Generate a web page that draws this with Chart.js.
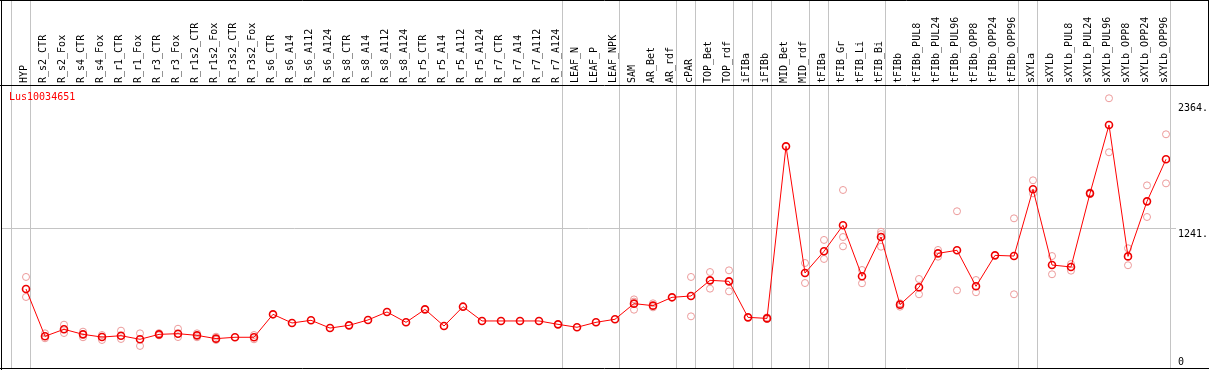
<!DOCTYPE html>
<html>
<head>
<meta charset="utf-8">
<script src="https://cdn.jsdelivr.net/npm/chart.js@4.4.1/dist/chart.umd.min.js"></script>
<style>
  html, body { margin: 0; padding: 0; background: #fff; }
  #wrap { width: 1209px; height: 370px; }
</style>
</head>
<body>
<div id="wrap"><canvas id="exprChart" width="1209" height="370"></canvas></div>
<script>
// Expression profile for one gene across tissues / treatments
const geneName = 'Lus10034651';

const categories = [
    'HYP', 'R_s2_CTR', 'R_s2_Fox', 'R_s4_CTR', 'R_s4_Fox', 'R_r1_CTR', 'R_r1_Fox',
    'R_r3_CTR', 'R_r3_Fox', 'R_r1s2_CTR', 'R_r1s2_Fox', 'R_r3s2_CTR', 'R_r3s2_Fox',
    'R_s6_CTR', 'R_s6_A14', 'R_s6_A112', 'R_s6_A124', 'R_s8_CTR', 'R_s8_A14', 'R_s8_A112',
    'R_s8_A124', 'R_r5_CTR', 'R_r5_A14', 'R_r5_A112', 'R_r5_A124', 'R_r7_CTR', 'R_r7_A14',
    'R_r7_A112', 'R_r7_A124', 'LEAF_N', 'LEAF_P', 'LEAF_NPK', 'SAM', 'AR_Bet', 'AR_rdf',
    'cPAR', 'TOP_Bet', 'TOP_rdf', 'iFIBa', 'iFIBb', 'MID_Bet', 'MID_rdf', 'tFIBa',
    'tFIB_Gr', 'tFIB_Li', 'tFIB_Bi', 'tFIBb', 'tFIBb_PUL8', 'tFIBb_PUL24', 'tFIBb_PUL96',
    'tFIBb_OPP8', 'tFIBb_OPP24', 'tFIBb_OPP96', 'sXYLa', 'sXYLb', 'sXYLb_PUL8',
    'sXYLb_PUL24', 'sXYLb_PUL96', 'sXYLb_OPP8', 'sXYLb_OPP24', 'sXYLb_OPP96'
];

// mean expression per sample
const meanValues = [
    702, 282, 344, 299, 275, 287, 255, 299, 305, 290, 261, 273, 273,
    477, 400, 424, 355, 379, 427, 498, 406, 521, 373, 545, 418, 418, 418, 418, 388,
    362, 406, 433, 572, 554, 628, 640, 779, 770, 450, 441, 1970, 844, 1037,
    1268, 815, 1164, 563, 717, 1019, 1046, 726, 1001, 995, 1588, 915, 898,
    1552, 2160, 992, 1481, 1855
];

// individual replicates (null = not shown)
const repHigh = [
    809, 308, 385, 323, 293, 332, 308, 310, 349, 308, 278, null, 293,
    null, null, null, null, null, null, null, null, null, null, null, null, null, null, null, null,
    null, null, null, 610, 575, null, 809, 853, 868, null, 450, null, 933, 1138,
    1582, 871, 1211, 575, 791, 1049, 1393, 782, null, 1330, 1668, 995, 924,
    1560, 2397, 1064, 1623, 2077
];
const repLow = [
    631, 264, 311, 273, 249, 258, 196, 290, 275, 273, 249, null, 255,
    null, null, null, null, null, null, null, null, null, null, null, null, null, null, null, null,
    null, null, null, 518, 539, null, 459, 705, 681, null, 435, null, 755, 969,
    1081, 753, 1078, 545, 655, 989, 690, 673, null, 655, 1552, 833, 865,
    1545, 1917, 913, 1342, 1641
];
const repMid = [
    null, null, null, null, null, null, null, null, null, null, null, null, null,
    null, null, null, null, null, null, null, null, null, null, null, null, null, null, null, null,
    null, null, null, 590, null, null, null, null, null, null, null, null, null, null,
    1164, null, 1190, null, null, null, null, null, null, null, null, null, null,
    null, null, null, null, null
];

// group separators are drawn after these sample indices
const groupEnds = [-1, 0, 28, 31, 34, 35, 37, 38, 39, 41, 42, 45, 52, 53, 60];

const yTicks = [0, 1241, 2364];
const yTickLabels = ['0', '1241.', '2364.'];

const MONO = 'DejaVu Sans Mono';
const GRID_GRAY = '#c4c4c4';

function toPoints(arr) {
    const pts = [];
    arr.forEach((v, i) => {
        if (v !== null) pts.push({ x: i, y: v });
    });
    return pts;
}

// Frame, separators, title and y labels
const framePlugin = {
    id: 'frame',
    beforeDatasetsDraw(chart) {
        const ctx = chart.ctx;
        const xs = chart.scales.x;
        const ys = chart.scales.y;
        ctx.save();
        ctx.strokeStyle = GRID_GRAY;
        ctx.lineWidth = 1;
        groupEnds.forEach(b => {
            const px = Math.round(xs.getPixelForValue(b + 0.22)) + 0.5;
            ctx.beginPath();
            ctx.moveTo(px, 0);
            ctx.lineTo(px, 369);
            ctx.stroke();
        });
        // reference grid line at the middle tick
        const gy = Math.round(ys.getPixelForValue(yTicks[1])) + 0.5;
        ctx.beginPath();
        ctx.moveTo(1, gy);
        ctx.lineTo(1176, gy);
        ctx.stroke();
        ctx.restore();
    },
    afterDraw(chart) {
        const ctx = chart.ctx;
        const ys = chart.scales.y;
        ctx.save();
        ctx.strokeStyle = '#000';
        ctx.lineWidth = 1;
        ctx.beginPath();
        ctx.moveTo(1.5, 0); ctx.lineTo(1.5, 370);
        ctx.moveTo(0, 0.5); ctx.lineTo(1209, 0.5);
        ctx.moveTo(0, 85.5); ctx.lineTo(1209, 85.5);
        ctx.moveTo(0, 368.5); ctx.lineTo(1209, 368.5);
        ctx.moveTo(1208.5, 0); ctx.lineTo(1208.5, 86);
        ctx.stroke();

        ctx.font = '10px "' + MONO + '"';
        ctx.textBaseline = 'top';
        ctx.textAlign = 'left';
        ctx.fillStyle = '#ff0000';
        ctx.fillText(geneName, 9, 92);

        ctx.fillStyle = '#000';
        yTicks.forEach((v, i) => {
            const py = Math.min(ys.getPixelForValue(v) + 1, 357);
            ctx.fillText(yTickLabels[i], 1178, py);
        });
        ctx.restore();
    }
};

const ctx = document.getElementById('exprChart').getContext('2d');
const chart = new Chart(ctx, {
    type: 'line',
    data: {
        datasets: [{
            label: 'mean',
            data: toPoints(meanValues),
            borderColor: '#ff0000',
            borderWidth: 1,
            pointRadius: 3.5,
            pointBorderWidth: 1.6,
            pointBorderColor: '#ee0000',
            pointBackgroundColor: 'rgba(0,0,0,0)',
            tension: 0,
            order: 1
        }, {
            label: 'rep1',
            type: 'scatter',
            data: toPoints(repHigh),
            pointRadius: 3.5,
            pointBorderWidth: 1,
            pointBorderColor: '#ec9a9a',
            pointBackgroundColor: 'rgba(0,0,0,0)',
            order: 2
        }, {
            label: 'rep2',
            type: 'scatter',
            data: toPoints(repLow),
            pointRadius: 3.5,
            pointBorderWidth: 1,
            pointBorderColor: '#ec9a9a',
            pointBackgroundColor: 'rgba(0,0,0,0)',
            order: 2
        }, {
            label: 'rep3',
            type: 'scatter',
            data: toPoints(repMid),
            pointRadius: 3.5,
            pointBorderWidth: 1,
            pointBorderColor: '#ec9a9a',
            pointBackgroundColor: 'rgba(0,0,0,0)',
            order: 2
        }]
    },
    options: {
        responsive: false,
        animation: false,
        devicePixelRatio: 1,
        layout: {
            autoPadding: false,
            padding: { left: 1, right: 0, top: 0, bottom: 2 }
        },
        plugins: {
            legend: { display: false },
            tooltip: { enabled: false }
        },
        scales: {
            x: {
                type: 'linear',
                position: 'top',
                min: -25 / 19,
                max: 60 + 4 / 19,
                afterBuildTicks: scale => {
                    scale.ticks = categories.map((c, i) => ({ value: i }));
                },
                afterFit: scale => {
                    scale.height = 85;
                    scale.paddingLeft = 0;
                    scale.paddingRight = 0;
                },
                ticks: {
                    autoSkip: false,
                    minRotation: 90,
                    maxRotation: 90,
                    padding: 2,
                    labelOffset: 10,
                    color: '#000',
                    font: { family: MONO, size: 10 },
                    callback: value => categories[value]
                },
                grid: { display: false, drawTicks: false },
                border: { display: false }
            },
            y: {
                position: 'right',
                min: 0,
                max: 2515,
                afterBuildTicks: scale => {
                    scale.ticks = yTicks.map(v => ({ value: v }));
                },
                afterFit: scale => {
                    scale.width = 39;
                    scale.paddingTop = 0;
                    scale.paddingBottom = 0;
                },
                ticks: { display: false },
                grid: { display: false, drawTicks: false },
                border: { display: false }
            }
        }
    },
    plugins: [framePlugin]
});
</script>
</body>
</html>
